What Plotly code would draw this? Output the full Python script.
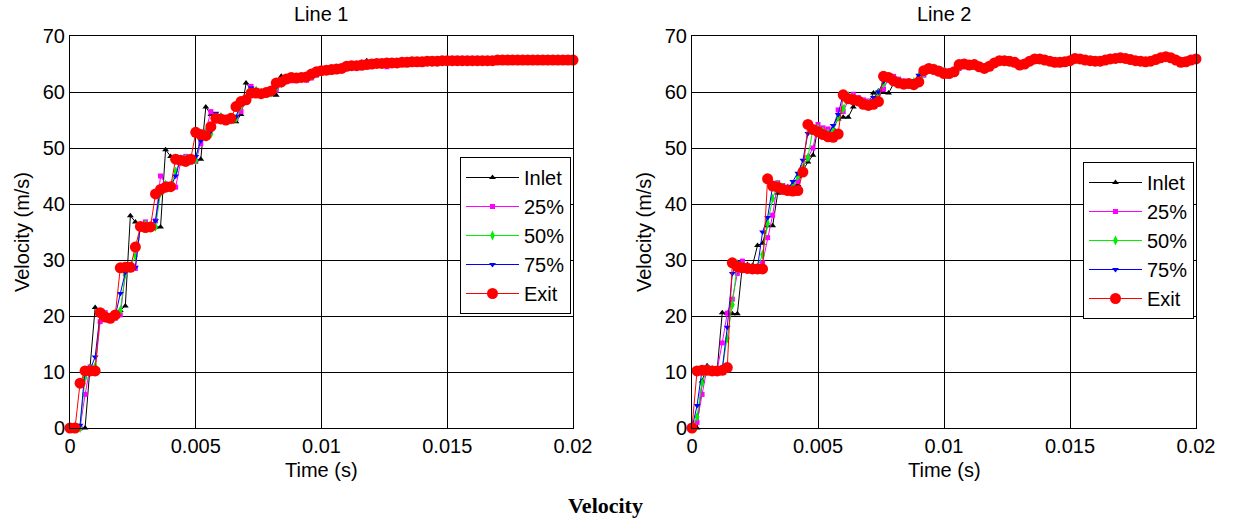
import plotly.graph_objects as go

# ---------------- data ----------------
time_s = [
    0.0000, 0.0002, 0.0004, 0.0006, 0.0008, 0.0010, 0.0012, 0.0014, 0.0016, 0.0018,
    0.0020, 0.0022, 0.0024, 0.0026, 0.0028, 0.0030, 0.0032, 0.0034, 0.0036, 0.0038,
    0.0040, 0.0042, 0.0044, 0.0046, 0.0048, 0.0050, 0.0052, 0.0054, 0.0056, 0.0058,
    0.0060, 0.0062, 0.0064, 0.0066, 0.0068, 0.0070, 0.0072, 0.0074, 0.0076, 0.0078,
    0.0080, 0.0082, 0.0084, 0.0086, 0.0088, 0.0090, 0.0092, 0.0094, 0.0096, 0.0098,
    0.0100, 0.0102, 0.0104, 0.0106, 0.0108, 0.0110, 0.0112, 0.0114, 0.0116, 0.0118,
    0.0120, 0.0122, 0.0124, 0.0126, 0.0128, 0.0130, 0.0132, 0.0134, 0.0136, 0.0138,
    0.0140, 0.0142, 0.0144, 0.0146, 0.0148, 0.0150, 0.0152, 0.0154, 0.0156, 0.0158,
    0.0160, 0.0162, 0.0164, 0.0166, 0.0168, 0.0170, 0.0172, 0.0174, 0.0176, 0.0178,
    0.0180, 0.0182, 0.0184, 0.0186, 0.0188, 0.0190, 0.0192, 0.0194, 0.0196, 0.0198,
    0.0200,
]

series_names = ["Inlet", "25%", "50%", "75%", "Exit"]
panel_titles = ["Line 1", "Line 2"]
x_tick_vals = [0, 0.005, 0.01, 0.015, 0.02]
x_tick_text = ["0", "0.005", "0.01", "0.015", "0.02"]
y_tick_vals = [0, 10, 20, 30, 40, 50, 60, 70]

# ---- Line 1 ----
line1_inlet = [
    0, 0, 0, 0, 11.0, 21.5, 20.5, 20.2, 20.0, 20.5,
    21.0, 21.8, 37.9, 36.8, 36.2, 36.0, 35.8, 35.9, 35.9, 49.7,
    48.5, 48.2, 48.0, 47.8, 47.8, 47.9, 48.0, 57.3, 56.0, 55.5,
    55.0, 54.8, 54.7, 54.7, 56.0, 61.6, 60.5, 60.0, 59.7, 59.6,
    59.5, 59.4, 62.8, 62.6, 62.5, 62.4, 62.5, 62.6, 63.5, 63.7,
    63.9, 64.0, 64.2, 64.3, 64.3, 64.8, 64.7, 64.8, 65.3, 65.6,
    65.1, 65.2, 65.1, 65.3, 65.2, 65.3, 65.4, 65.3, 65.4, 65.5,
    65.4, 65.5, 65.6, 65.5, 65.6, 65.6, 65.7, 65.6, 65.6, 65.7,
    65.6, 65.6, 65.7, 65.6, 65.6, 65.7, 65.7, 65.7, 65.8, 65.7,
    65.7, 65.7, 65.8, 65.7, 65.7, 65.7, 65.8, 65.7, 65.7, 65.7,
    65.7,
]
line1_p25 = [
    0, 0, 0, 6.0, 10.9, 10.5, 19.0, 20.6, 19.5, 19.6,
    20.2, 27.5, 29.0, 28.5, 36.0, 36.8, 36.2, 37.0, 45.0, 43.6,
    43.2, 43.0, 47.5, 48.5, 47.5, 47.6, 50.8, 53.0, 56.5, 55.8,
    55.3, 55.1, 55.2, 55.3, 56.5, 58.5, 61.0, 60.3, 59.6, 60.1,
    60.1, 60.3, 61.4, 62.4, 62.0, 62.2, 62.3, 62.1, 62.5, 63.0,
    63.5, 63.8, 63.9, 64.0, 64.1, 64.4, 64.6, 64.5, 64.3, 64.8,
    64.9, 65.0, 65.0, 64.5, 65.1, 65.2, 65.2, 65.3, 65.3, 65.4,
    65.4, 65.4, 65.5, 65.5, 65.5, 65.6, 65.5, 65.6, 65.6, 65.6,
    65.6, 65.6, 65.3, 65.6, 65.6, 65.6, 65.7, 65.7, 65.7, 65.7,
    65.7, 65.7, 65.6, 65.7, 65.7, 65.7, 65.7, 65.7, 65.7, 65.7,
    65.7,
]
line1_p50 = [
    0, 0, 0, 9.0, 10.6, 11.0, 20.3, 20.2, 19.8, 19.9,
    21.0, 27.5, 28.8, 30.7, 35.8, 36.4, 36.1, 35.9, 42.0, 43.5,
    43.1, 45.8, 47.9, 48.1, 47.8, 47.8, 51.8, 52.8, 52.5, 55.2,
    55.6, 55.1, 55.0, 55.3, 57.5, 58.7, 60.0, 60.3, 59.8, 59.7,
    59.9, 60.8, 61.5, 62.2, 62.5, 62.4, 62.6, 62.7, 62.9, 63.3,
    63.6, 63.8, 64.0, 64.1, 64.2, 64.5, 64.6, 64.7, 64.8, 64.9,
    65.0, 65.0, 65.1, 65.2, 65.2, 65.2, 65.3, 65.3, 65.4, 65.4,
    65.4, 65.5, 65.5, 65.5, 65.6, 65.6, 65.6, 65.6, 65.6, 65.6,
    65.6, 65.6, 65.6, 65.6, 65.6, 65.7, 65.7, 65.7, 65.7, 65.7,
    65.7, 65.7, 65.7, 65.7, 65.7, 65.7, 65.7, 65.7, 65.7, 65.7,
    65.7,
]
line1_p75 = [
    0, 0, 0.5, 10.5, 10.4, 12.7, 20.5, 20.0, 19.7, 20.0,
    24.0, 27.8, 28.9, 28.7, 36.2, 36.3, 36.0, 37.0, 43.0, 43.3,
    43.0, 45.0, 48.2, 47.9, 47.7, 48.5, 51.3, 52.5, 53.0, 56.2,
    55.3, 55.0, 55.2, 55.6, 58.0, 58.5, 60.7, 59.9, 59.7, 59.8,
    60.0, 61.0, 61.7, 62.3, 62.4, 62.5, 62.6, 62.6, 63.0, 63.4,
    63.7, 63.9, 64.0, 64.1, 64.2, 64.5, 64.7, 64.7, 64.8, 64.9,
    65.0, 65.1, 65.1, 65.2, 65.2, 65.2, 65.3, 65.3, 65.4, 65.4,
    65.4, 65.5, 65.5, 65.5, 65.6, 65.6, 65.6, 65.6, 65.6, 65.6,
    65.6, 65.6, 65.6, 65.6, 65.6, 65.7, 65.7, 65.7, 65.7, 65.7,
    65.7, 65.7, 65.7, 65.7, 65.7, 65.7, 65.7, 65.7, 65.7, 65.7,
    65.7,
]
line1_exit = [
    0, 0, 8.0, 10.2, 10.2, 10.2, 20.6, 19.8, 19.6, 20.2,
    28.6, 28.7, 28.7, 32.3, 36.0, 35.8, 35.9, 41.8, 42.6, 43.0,
    43.1, 48.0, 47.8, 47.6, 48.0, 52.8, 52.4, 52.2, 53.8, 55.3,
    55.2, 55.0, 55.3, 57.4, 58.3, 58.6, 59.8, 59.8, 59.7, 59.9,
    60.2, 61.6, 61.8, 62.3, 62.6, 62.5, 62.6, 62.7, 63.2, 63.6,
    63.8, 63.9, 64.0, 64.1, 64.2, 64.6, 64.7, 64.7, 64.8, 64.9,
    65.0, 65.1, 65.1, 65.2, 65.2, 65.2, 65.3, 65.3, 65.4, 65.4,
    65.4, 65.5, 65.5, 65.5, 65.6, 65.6, 65.6, 65.6, 65.6, 65.6,
    65.6, 65.6, 65.6, 65.6, 65.6, 65.7, 65.7, 65.7, 65.7, 65.7,
    65.7, 65.7, 65.7, 65.7, 65.7, 65.7, 65.7, 65.7, 65.7, 65.7,
    65.7,
]

# ---- Line 2 ----
line2_inlet = [
    0, 0, 8.4, 11.1, 10.5, 10.4, 20.6, 20.5, 20.4, 20.4,
    29.0, 29.2, 29.0, 32.6, 33.0, 36.1, 36.1, 41.9, 43.0, 43.1,
    43.3, 43.5, 46.0, 47.5, 48.7, 53.8, 53.0, 52.6, 53.5, 55.2,
    55.5, 55.5, 57.3, 58.5, 58.3, 58.0, 59.8, 60.2, 59.9, 59.8,
    61.5, 61.6, 61.7, 61.3, 61.2, 62.0, 63.3, 64.0, 64.1, 63.8,
    63.4, 63.2, 63.4, 64.3, 64.9, 64.9, 64.8, 64.7, 64.4, 64.4,
    64.9, 65.4, 65.6, 65.5, 65.4, 65.0, 64.9, 65.3, 65.7, 65.9,
    65.8, 65.6, 65.4, 65.3, 65.3, 65.5, 65.8, 66.0, 65.8, 65.6,
    65.5, 65.5, 65.6, 65.8, 66.0, 66.1, 66.0, 65.9, 65.7, 65.5,
    65.4, 65.5, 65.7, 66.0, 66.2, 66.2, 65.8, 65.4, 65.4, 65.6,
    65.9,
]
line2_p25 = [
    0, 1.0, 6.0, 10.8, 10.6, 10.4, 15.2, 20.5, 23.0, 27.6,
    29.8, 29.0, 28.6, 28.7, 29.5, 34.0, 38.0, 43.8, 43.3, 43.0,
    42.8, 44.0, 46.5, 48.3, 50.0, 54.2, 53.6, 53.4, 53.0, 56.8,
    56.5, 58.5, 59.6, 59.0, 58.6, 58.4, 58.0, 59.8, 60.5, 62.4,
    62.8, 62.3, 62.0, 61.8, 61.6, 62.5, 63.0, 63.8, 64.4, 64.2,
    63.9, 63.5, 63.4, 64.2, 65.0, 65.0, 64.9, 64.7, 64.3, 64.4,
    65.0, 65.5, 65.7, 65.6, 65.4, 65.0, 64.9, 65.3, 65.8, 66.0,
    65.8, 65.6, 65.4, 65.3, 65.3, 65.5, 65.9, 66.0, 65.8, 65.6,
    65.5, 65.5, 65.6, 65.8, 66.0, 66.1, 66.1, 65.9, 65.7, 65.5,
    65.4, 65.4, 65.7, 66.0, 66.2, 66.2, 65.9, 65.4, 65.3, 65.6,
    65.9,
]
line2_p50 = [
    0, 2.0, 8.0, 10.6, 10.4, 10.3, 10.5, 16.0, 22.0, 29.3,
    28.9, 28.7, 28.5, 28.6, 31.0, 36.5, 41.0, 43.5, 43.0, 42.7,
    43.0, 45.0, 46.5, 48.3, 53.4, 53.5, 53.0, 52.6, 53.0, 55.5,
    57.0, 59.3, 59.0, 58.5, 58.1, 58.0, 58.5, 59.8, 61.5, 62.6,
    62.3, 61.9, 61.7, 61.6, 61.8, 62.8, 63.3, 64.0, 64.3, 64.0,
    63.7, 63.4, 63.5, 64.5, 65.0, 64.9, 64.9, 64.6, 64.3, 64.5,
    65.1, 65.5, 65.6, 65.5, 65.3, 64.9, 65.0, 65.4, 65.8, 65.9,
    65.8, 65.5, 65.3, 65.3, 65.4, 65.5, 65.9, 65.9, 65.7, 65.6,
    65.5, 65.5, 65.6, 65.9, 66.0, 66.1, 66.0, 65.8, 65.6, 65.5,
    65.4, 65.5, 65.7, 66.0, 66.2, 66.1, 65.8, 65.4, 65.4, 65.6,
    65.9,
]
line2_p75 = [
    0, 4.0, 10.4, 10.5, 10.3, 10.4, 10.5, 18.0, 27.6, 29.5,
    28.8, 28.6, 28.5, 28.7, 35.0, 37.6, 43.2, 43.3, 42.8, 42.6,
    44.0, 45.5, 47.8, 52.6, 53.6, 53.2, 52.8, 52.4, 54.0, 56.0,
    59.7, 59.2, 58.8, 58.3, 58.0, 57.9, 59.0, 60.0, 61.9, 62.5,
    62.2, 61.8, 61.6, 61.7, 62.0, 63.0, 63.6, 64.3, 64.2, 63.9,
    63.6, 63.3, 63.5, 64.7, 65.0, 64.9, 64.8, 64.6, 64.2, 64.5,
    65.1, 65.6, 65.6, 65.5, 65.3, 64.9, 65.0, 65.5, 65.9, 65.9,
    65.7, 65.5, 65.3, 65.3, 65.4, 65.6, 66.0, 65.9, 65.7, 65.6,
    65.5, 65.5, 65.7, 65.9, 66.0, 66.1, 66.0, 65.8, 65.6, 65.5,
    65.4, 65.5, 65.8, 66.1, 66.3, 66.1, 65.7, 65.3, 65.4, 65.7,
    65.9,
]
line2_exit = [
    0, 10.2, 10.3, 10.3, 10.2, 10.2, 10.3, 10.8, 29.5, 28.8,
    28.6, 28.5, 28.4, 28.4, 28.4, 44.5, 43.2, 43.0, 42.6, 42.4,
    42.3, 42.4, 45.7, 54.2, 53.3, 52.9, 52.4, 52.0, 51.9, 52.5,
    59.5, 58.8, 58.6, 58.4, 57.8, 57.6, 57.8, 58.3, 62.8, 62.6,
    62.0, 61.6, 61.4, 61.5, 61.3, 61.8, 63.8, 64.2, 64.0, 63.7,
    63.3, 63.3, 63.6, 64.9, 65.0, 64.8, 64.9, 64.5, 64.2, 64.6,
    65.2, 65.6, 65.6, 65.5, 65.3, 64.8, 65.0, 65.5, 65.9, 65.9,
    65.7, 65.5, 65.3, 65.3, 65.4, 65.6, 66.0, 65.9, 65.7, 65.6,
    65.5, 65.5, 65.7, 65.9, 66.0, 66.1, 66.0, 65.8, 65.6, 65.5,
    65.4, 65.5, 65.8, 66.1, 66.3, 66.1, 65.7, 65.3, 65.4, 65.7,
    65.9,
]

panels = [
    [line1_inlet, line1_p25, line1_p50, line1_p75, line1_exit],
    [line2_inlet, line2_p25, line2_p50, line2_p75, line2_exit],
]

# ---------------- styling ----------------
W, H = 1234, 522
FONT = "Liberation Sans, Arial, sans-serif"
styles = [
    dict(color="#000000", symbol="triangle-up", size=6),
    dict(color="#ff00ff", symbol="square", size=5),
    dict(color="#00ee00", symbol="diamond-tall", size=7),
    dict(color="#0000ff", symbol="triangle-down", size=6),
    dict(color="#ff0000", symbol="circle", size=11),
]

# plot areas in pixels (left, right, top, bottom)
areas = [(70, 573, 36, 428), (692, 1196, 36, 428)]


def px_x(p):
    return p / W


def px_y(p):
    return 1 - p / H


fig = go.Figure()
for k, data in enumerate(panels):
    xa = "x" if k == 0 else "x2"
    ya = "y" if k == 0 else "y2"
    lg = "legend" if k == 0 else "legend2"
    for name, vals, st in zip(series_names, data, styles):
        fig.add_trace(go.Scatter(
            x=time_s, y=vals, name=name, mode="lines+markers",
            xaxis=xa, yaxis=ya, legend=lg,
            line=dict(color=st["color"], width=1),
            marker=dict(color=st["color"], symbol=st["symbol"], size=st["size"],
                        line=dict(width=0)),
            cliponaxis=False,
        ))

axis_common = dict(
    showgrid=True, gridcolor="black", gridwidth=1,
    showline=True, linecolor="black", linewidth=1, mirror=True,
    zeroline=False, ticks="", automargin=False,
    tickfont=dict(family=FONT, size=20, color="black"),
)

layout_axes = {}
for k, (l, r, t, b) in enumerate(areas):
    sx = "" if k == 0 else "2"
    layout_axes["xaxis" + sx] = dict(
        axis_common, domain=[px_x(l), px_x(r)], range=[0, 0.02],
        tickvals=x_tick_vals, ticktext=x_tick_text,
        anchor="y" + sx,
    )
    layout_axes["yaxis" + sx] = dict(
        axis_common, domain=[px_y(b), px_y(t)], range=[0, 70],
        tickvals=y_tick_vals, anchor="x" + sx,
    )

legend_common = dict(
    bgcolor="white", bordercolor="black", borderwidth=1,
    font=dict(family=FONT, size=20, color="black"),
    xanchor="right", yanchor="top", tracegroupgap=0,
    itemwidth=53,
)

annotations = []
for k, (l, r, t, b) in enumerate(areas):
    cx = px_x((l + r) / 2)
    annotations.append(dict(text=panel_titles[k], x=cx, y=px_y(14), xref="paper", yref="paper",
                            showarrow=False, font=dict(family=FONT, size=20, color="black"),
                            xanchor="center", yanchor="middle"))
    annotations.append(dict(text="Time (s)", x=cx, y=px_y(470), xref="paper", yref="paper",
                            showarrow=False, font=dict(family=FONT, size=20, color="black"),
                            xanchor="center", yanchor="middle"))
    annotations.append(dict(text="Velocity (m/s)", x=px_x(l - 48), y=px_y((t + b) / 2),
                            xref="paper", yref="paper", textangle=-90,
                            showarrow=False, font=dict(family=FONT, size=20, color="black"),
                            xanchor="center", yanchor="middle"))
annotations.append(dict(text="<b>Velocity</b>", x=px_x(605), y=px_y(505), xref="paper", yref="paper",
                        showarrow=False,
                        font=dict(family="Liberation Serif, Times New Roman, serif", size=22, color="black"),
                        xanchor="center", yanchor="middle"))

fig.update_layout(
    width=W, height=H,
    margin=dict(l=0, r=0, t=0, b=0, autoexpand=False),
    paper_bgcolor="white", plot_bgcolor="white",
    showlegend=True,
    legend=dict(legend_common, x=px_x(571), y=px_y(157)),
    legend2=dict(legend_common, x=px_x(1194), y=px_y(162)),
    annotations=annotations,
    **layout_axes,
)

fig.write_html(
    "out.html",
    config={"displayModeBar": False},
    post_script="document.body.style.margin='0';document.body.style.padding='0';"
                "document.body.style.overflow='hidden';",
)
